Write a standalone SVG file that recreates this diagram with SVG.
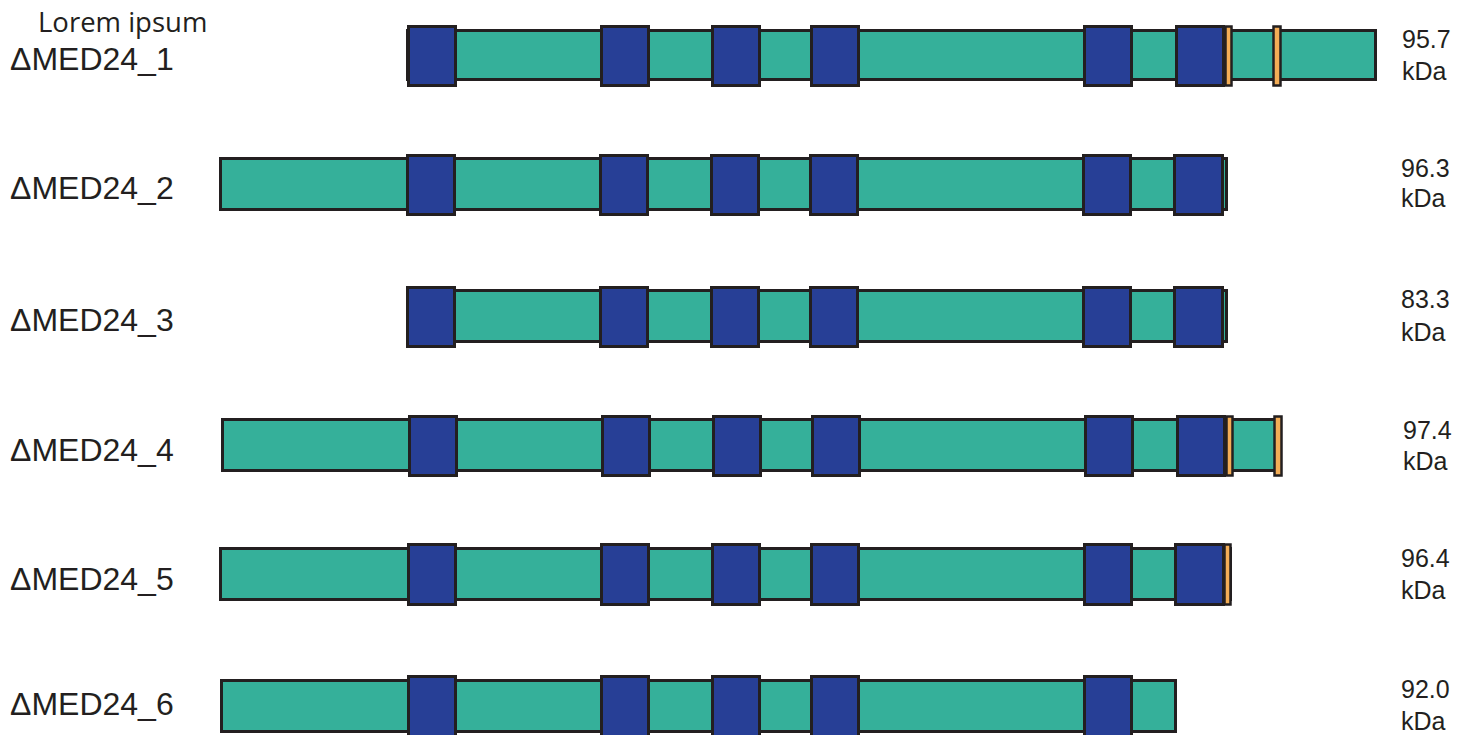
<svg xmlns="http://www.w3.org/2000/svg" width="1474" height="735" viewBox="0 0 1474 735">
<style>
.bar{fill:#35b09a;stroke:#231f20;stroke-width:3}
.dom{fill:#273f96;stroke:#231f20;stroke-width:3}
.mot{fill:#f3ad56;stroke:#231f20;stroke-width:2.5}
.lbl{font-family:"Liberation Sans",Arial,sans-serif;font-size:32px;fill:#231f20}
.kda{font-family:"Liberation Sans",Arial,sans-serif;font-size:25px;fill:#231f20}
.title{font-family:"Open Sans","Liberation Sans",sans-serif;font-size:27.5px;fill:#231f20}
</style>
<rect width="1474" height="735" fill="#ffffff"/>
<text class="title" x="38" y="32">Lorem ipsum</text>

<g id="row1">
<rect class="bar" x="407.5" y="30.5" width="968" height="49"/>
<rect class="dom" x="408.5" y="26.5" width="47" height="59"/>
<rect class="dom" x="601.5" y="26.5" width="47" height="59"/>
<rect class="dom" x="712.5" y="26.5" width="47" height="59"/>
<rect class="dom" x="811.5" y="26.5" width="47" height="59"/>
<rect class="dom" x="1084.5" y="26.5" width="47" height="59"/>
<rect class="dom" x="1176.5" y="26.5" width="47" height="59"/>
<rect class="mot" x="1225.5" y="26.5" width="6" height="59"/>
<rect class="mot" x="1273.5" y="26.5" width="7" height="59"/>
<text class="lbl" x="10" y="70">ΔMED24_1</text>
<text class="kda" x="1402" y="48">95.7</text>
<text class="kda" x="1402" y="80">kDa</text>
</g>

<g id="row2">
<rect class="bar" x="220.5" y="158.5" width="1006" height="51"/>
<rect class="dom" x="407.5" y="155.5" width="47" height="59"/>
<rect class="dom" x="600.5" y="155.5" width="47" height="59"/>
<rect class="dom" x="711.5" y="155.5" width="47" height="59"/>
<rect class="dom" x="810.5" y="155.5" width="47" height="59"/>
<rect class="dom" x="1083.5" y="155.5" width="47" height="59"/>
<rect class="dom" x="1174.5" y="155.5" width="48" height="59"/>
<text class="lbl" x="10" y="199">ΔMED24_2</text>
<text class="kda" x="1401" y="177">96.3</text>
<text class="kda" x="1401" y="207">kDa</text>
</g>

<g id="row3">
<rect class="bar" x="407.5" y="290.5" width="819" height="51"/>
<rect class="dom" x="407.5" y="287.5" width="47" height="59"/>
<rect class="dom" x="600.5" y="287.5" width="47" height="59"/>
<rect class="dom" x="711.5" y="287.5" width="47" height="59"/>
<rect class="dom" x="810.5" y="287.5" width="47" height="59"/>
<rect class="dom" x="1083.5" y="287.5" width="47" height="59"/>
<rect class="dom" x="1174.5" y="287.5" width="48" height="59"/>
<text class="lbl" x="10" y="331">ΔMED24_3</text>
<text class="kda" x="1401" y="308">83.3</text>
<text class="kda" x="1401" y="341">kDa</text>
</g>

<g id="row4">
<rect class="bar" x="222.5" y="419.5" width="1058" height="51"/>
<rect class="dom" x="409.5" y="416.5" width="47" height="59"/>
<rect class="dom" x="602.5" y="416.5" width="47" height="59"/>
<rect class="dom" x="713.5" y="416.5" width="47" height="59"/>
<rect class="dom" x="812.5" y="416.5" width="47" height="59"/>
<rect class="dom" x="1085.5" y="416.5" width="47" height="59"/>
<rect class="dom" x="1177.5" y="416.5" width="47" height="59"/>
<rect class="mot" x="1226.5" y="416.5" width="6" height="59"/>
<rect class="mot" x="1274.5" y="416.5" width="7" height="59"/>
<text class="lbl" x="10" y="461">ΔMED24_4</text>
<text class="kda" x="1403" y="439">97.4</text>
<text class="kda" x="1403" y="470">kDa</text>
</g>

<g id="row5">
<rect class="bar" x="220.5" y="548.5" width="1010" height="51"/>
<rect class="dom" x="408.5" y="544.5" width="47" height="60"/>
<rect class="dom" x="601.5" y="544.5" width="47" height="60"/>
<rect class="dom" x="712.5" y="544.5" width="47" height="60"/>
<rect class="dom" x="811.5" y="544.5" width="47" height="60"/>
<rect class="dom" x="1084.5" y="544.5" width="47" height="60"/>
<rect class="dom" x="1175.5" y="544.5" width="48" height="60"/>
<rect class="mot" x="1224.5" y="544.5" width="6" height="60"/>
<text class="lbl" x="10" y="590">ΔMED24_5</text>
<text class="kda" x="1401" y="567">96.4</text>
<text class="kda" x="1401" y="599">kDa</text>
</g>

<g id="row6">
<rect class="bar" x="221.5" y="680.5" width="954" height="51"/>
<rect class="dom" x="408.5" y="676.5" width="47" height="62"/>
<rect class="dom" x="601.5" y="676.5" width="47" height="62"/>
<rect class="dom" x="712.5" y="676.5" width="47" height="62"/>
<rect class="dom" x="811.5" y="676.5" width="47" height="62"/>
<rect class="dom" x="1084.5" y="676.5" width="47" height="62"/>
<text class="lbl" x="10" y="715">ΔMED24_6</text>
<text class="kda" x="1401" y="698">92.0</text>
<text class="kda" x="1401" y="730">kDa</text>
</g>

<g id="connectors"></g>
</svg>
